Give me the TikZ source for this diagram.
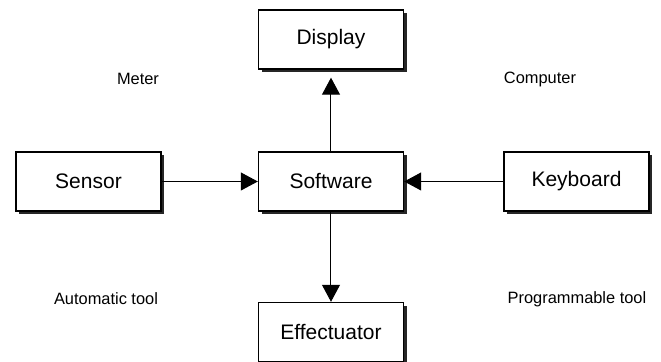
\documentclass[tikz,border=0pt]{standalone}
\usepackage{fontspec}
\setmainfont{Liberation Sans}
\usetikzlibrary{shadows, arrows.meta}

\begin{document}
\begin{tikzpicture}[x=0.5pt, y=-0.5pt]
    % Define styles for the boxes, the corner labels and the arrows
    \tikzset{
        block/.style={draw, fill=white, line width=0.7pt, minimum width=72.5pt, minimum height=29.5pt,
            font=\fontsize{10.5}{12}\selectfont,
            drop shadow={shadow xshift=1.6pt, shadow yshift=-1.6pt, fill=black!85, opacity=1}},
        note/.style={font=\fontsize{8.2}{10}\selectfont},
        link/.style={line width=0.5pt, -{Triangle[width=9pt, length=8.5pt]}}
    }
    \useasboundingbox (0,0) rectangle (661,362);

    % Draw the central "Software" box and the four boxes round it
    \node[block] (software) at (331,181.5) {Software};
    \node[block] (display) at (331,39.5) {Display};
    \node[block] (sensor) at (88.5,181.5) {Sensor};
    \node[block] (keyboard) at (576.5,181.5) {Keyboard};
    \node[block] (effectuator) at (331,332) {Effectuator};

    % Add the labels in the four corners
    \node[note] (meter) at (138,79) {Meter};
    \node[note] (computer) at (540,79) {Computer};
    \node[note] (automatic) at (106,299) {Automatic tool};
    \node[note] (programmable) at (577,299) {Programmable tool};

    % Draw the arrows into and out of "Software"
    \draw[link] (sensor) -- (software);
    \draw[link] (keyboard) -- (software);
    \draw[link, shorten >=4pt] (software) -- (display);
    \draw[link] (software) -- (effectuator);
\end{tikzpicture}
\end{document}
